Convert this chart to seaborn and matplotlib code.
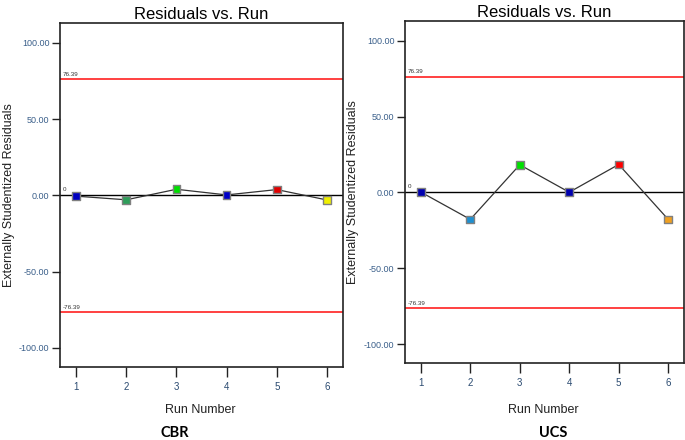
import matplotlib
matplotlib.use("Agg")
import matplotlib.pyplot as plt
import seaborn as sns
import pandas as pd

runs = [1, 2, 3, 4, 5, 6]
cbr_resid = [-0.5, -2.9, 4.0, 0.3, 3.8, -3.0]
ucs_resid = [0.2, -17.8, 18.2, 0.1, 18.4, -17.8]
cbr_colors = ["#0000c0", "#2e9e5a", "#00e000", "#0000c8", "#e00000", "#f0f000"]
ucs_colors = ["#0000b0", "#1e8fd0", "#00e000", "#0000b0", "#ff0000", "#f0a020"]
limit = 76.39
yticks = [100, 50, 0, -50, -100]
yticklabels = ["100.00", "50.00", "0.00", "-50.00", "-100.00"]
panel_names = ["CBR", "UCS"]

sns.set_theme(style="white")
plt.rcParams["font.family"] = ["Liberation Sans", "DejaVu Sans"]

fig = plt.figure(figsize=(6.85, 4.4), dpi=100)
W, H = 685, 440

def px_axes(x0, y0, x1, y1):
    return fig.add_axes([x0 / W, 1 - y1 / H, (x1 - x0) / W, (y1 - y0) / H])

panels = [
    (px_axes(60, 23, 343, 367), cbr_resid, cbr_colors, "CBR", 200, 175, -0.16),
    (px_axes(405, 21, 684, 363), ucs_resid, ucs_colors, "UCS", 543, 553, -0.165),
]

for ax, resid, colors, name, cx, namex, labx in panels:
    df = pd.DataFrame({"run": runs, "resid": resid, "id": [str(r) for r in runs]})
    ax.axhline(limit, color="#ff2020", lw=1.2, zorder=1)
    ax.axhline(-limit, color="#ff2020", lw=1.2, zorder=1)
    ax.axhline(0, color="black", lw=1.0, zorder=1)
    sns.lineplot(data=df, x="run", y="resid", ax=ax, color="#333333", lw=0.9,
                 zorder=2, legend=False)
    sns.scatterplot(data=df, x="run", y="resid", hue="id", palette=colors, ax=ax,
                    marker="s", s=30, edgecolor="#808080", linewidth=1.0,
                    zorder=3, legend=False)
    ax.set_xlim(0.68, 6.32)
    ax.set_ylim(-112.5, 113)
    ax.set_xticks(runs)
    ax.set_xticklabels([str(r) for r in runs], fontsize=7, color="#2a4a70")
    ax.set_yticks(yticks)
    ax.set_yticklabels(yticklabels, fontsize=6.5, color="#3a5f8a")
    ax.tick_params(axis="x", direction="out", length=7, width=1, pad=4,
                   bottom=True, colors="#222222", labelcolor="#2a4a70")
    ax.tick_params(axis="y", direction="out", length=5.5, width=1, pad=2,
                   left=True, colors="#222222", labelcolor="#3a5f8a")
    for sp in ax.spines.values():
        sp.set_color("#222222")
        sp.set_linewidth(1.2)
    ax.set_xlabel("")
    ax.set_ylabel("Externally Studentized Residuals", fontsize=9, color="#222222")
    ax.yaxis.set_label_coords(labx, 0.5)
    ax.set_title("Residuals vs. Run", fontsize=12, color="black", pad=3)
    ax.text(0.01, limit + 1.5, "76.39", fontsize=4.5, color="#333333",
            transform=ax.get_yaxis_transform(), va="bottom", ha="left")
    ax.text(0.01, -limit + 1.5, "-76.39", fontsize=4.5, color="#333333",
            transform=ax.get_yaxis_transform(), va="bottom", ha="left")
    ax.text(0.01, 2.5, "0", fontsize=4.5, color="#333333",
            transform=ax.get_yaxis_transform(), va="bottom", ha="left")
    fig.text(cx / W, 1 - 410 / H, "Run Number", fontsize=9, color="#222222",
             ha="center", va="center")
    fig.text(namex / W, 1 - 433 / H, name, fontsize=10.5, fontweight="bold",
             family=["Lato", "DejaVu Sans"], ha="center", va="center", color="black")

fig.savefig("out.png", dpi=100)
